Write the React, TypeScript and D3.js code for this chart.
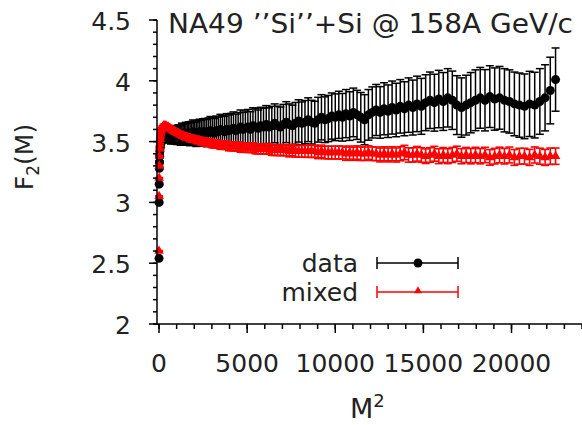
import React from "react";
import * as d3 from "d3";

// x values: M^2
const M2: number[] = [
  1, 4, 9, 16, 25, 36, 49, 64, 81, 100,
  121, 144, 169, 196, 225, 256, 289, 324, 361, 400,
  441, 484, 529, 576, 625, 676, 729, 784, 841, 900,
  961, 1024, 1089, 1156, 1225, 1296, 1369, 1444, 1521, 1600,
  1681, 1764, 1849, 1936, 2025, 2116, 2209, 2304, 2401, 2500,
  2601, 2704, 2809, 2916, 3025, 3136, 3249, 3364, 3481, 3600,
  3721, 3844, 3969, 4096, 4225, 4356, 4489, 4624, 4761, 4900,
  5041, 5184, 5329, 5476, 5625, 5776, 5929, 6084, 6241, 6400,
  6561, 6724, 6889, 7056, 7225, 7396, 7569, 7744, 7921, 8100,
  8281, 8464, 8649, 8836, 9025, 9216, 9409, 9604, 9801, 10000,
  10201, 10404, 10609, 10816, 11025, 11236, 11449, 11664, 11881, 12100,
  12321, 12544, 12769, 12996, 13225, 13456, 13689, 13924, 14161, 14400,
  14641, 14884, 15129, 15376, 15625, 15876, 16129, 16384, 16641, 16900,
  17161, 17424, 17689, 17956, 18225, 18496, 18769, 19044, 19321, 19600,
  19881, 20164, 20449, 20736, 21025, 21316, 21609, 21904, 22201, 22500,
];

const dataF2: number[] = [
  2.54, 3.0, 3.15, 3.28, 3.33, 3.38, 3.42, 3.45, 3.47, 3.49,
  3.5, 3.51, 3.52, 3.52, 3.53, 3.53, 3.53, 3.54, 3.54, 3.54,
  3.54, 3.55, 3.54, 3.55, 3.55, 3.54, 3.55, 3.56, 3.55, 3.55,
  3.56, 3.55, 3.56, 3.56, 3.55, 3.57, 3.56, 3.56, 3.57, 3.56,
  3.57, 3.56, 3.57, 3.58, 3.57, 3.56, 3.57, 3.58, 3.57, 3.58,
  3.58, 3.57, 3.58, 3.59, 3.58, 3.57, 3.59, 3.58, 3.6, 3.59,
  3.58, 3.6, 3.59, 3.6, 3.61, 3.59, 3.6, 3.62, 3.6, 3.61,
  3.62, 3.6, 3.63, 3.62, 3.61, 3.63, 3.62, 3.64, 3.62, 3.63,
  3.65, 3.63, 3.62, 3.64, 3.66, 3.64, 3.63, 3.65, 3.67, 3.65,
  3.66, 3.68, 3.66, 3.65, 3.68, 3.7, 3.68, 3.69, 3.71, 3.7,
  3.72, 3.7, 3.73, 3.71, 3.74, 3.72, 3.7, 3.68, 3.72, 3.74,
  3.76, 3.74, 3.77, 3.75, 3.78, 3.76, 3.79, 3.77, 3.8, 3.78,
  3.81, 3.79, 3.82, 3.84, 3.82, 3.85, 3.83, 3.86, 3.84, 3.8,
  3.78, 3.8, 3.82, 3.84, 3.86, 3.84, 3.87, 3.85, 3.86, 3.84,
  3.83, 3.81, 3.8, 3.79, 3.81, 3.8, 3.83, 3.86, 3.92, 4.01,
];

const dataErr: number[] = [
  0.004, 0.006, 0.008, 0.01, 0.012, 0.014, 0.016, 0.018, 0.02, 0.022,
  0.024, 0.026, 0.028, 0.03, 0.032, 0.035, 0.037, 0.04, 0.042, 0.045,
  0.047, 0.05, 0.052, 0.054, 0.057, 0.06, 0.062, 0.064, 0.066, 0.07,
  0.072, 0.074, 0.076, 0.078, 0.08, 0.082, 0.084, 0.086, 0.088, 0.09,
  0.092, 0.094, 0.096, 0.098, 0.1, 0.1, 0.102, 0.104, 0.106, 0.108,
  0.11, 0.112, 0.114, 0.116, 0.118, 0.12, 0.12, 0.122, 0.124, 0.126,
  0.128, 0.13, 0.13, 0.132, 0.134, 0.136, 0.138, 0.14, 0.14, 0.142,
  0.144, 0.146, 0.148, 0.15, 0.15, 0.152, 0.154, 0.156, 0.158, 0.16,
  0.16, 0.162, 0.164, 0.166, 0.168, 0.17, 0.17, 0.172, 0.174, 0.176,
  0.178, 0.18, 0.18, 0.182, 0.184, 0.186, 0.188, 0.19, 0.19, 0.192,
  0.194, 0.196, 0.198, 0.2, 0.2, 0.202, 0.204, 0.206, 0.208, 0.21,
  0.21, 0.212, 0.214, 0.216, 0.218, 0.22, 0.22, 0.222, 0.224, 0.226,
  0.228, 0.23, 0.23, 0.232, 0.234, 0.236, 0.238, 0.24, 0.24, 0.242,
  0.244, 0.246, 0.248, 0.25, 0.25, 0.252, 0.254, 0.256, 0.258, 0.26,
  0.26, 0.262, 0.264, 0.266, 0.268, 0.27, 0.27, 0.272, 0.274, 0.26,
];

const mixedF2: number[] = [
  2.6, 3.05, 3.2, 3.3, 3.38, 3.44, 3.48, 3.52, 3.55, 3.57,
  3.59, 3.6, 3.61, 3.62, 3.62, 3.63, 3.63, 3.63, 3.63, 3.63,
  3.62, 3.62, 3.62, 3.61, 3.61, 3.6, 3.6, 3.59, 3.59, 3.58,
  3.58, 3.57, 3.57, 3.56, 3.56, 3.55, 3.55, 3.54, 3.54, 3.54,
  3.53, 3.53, 3.52, 3.52, 3.52, 3.51, 3.51, 3.51, 3.5, 3.5,
  3.5, 3.49, 3.49, 3.49, 3.48, 3.48, 3.48, 3.48, 3.47, 3.47,
  3.47, 3.47, 3.46, 3.46, 3.46, 3.46, 3.46, 3.45, 3.45, 3.45,
  3.45, 3.45, 3.45, 3.44, 3.44, 3.44, 3.44, 3.44, 3.44, 3.43,
  3.43, 3.43, 3.43, 3.43, 3.43, 3.42, 3.43, 3.42, 3.42, 3.42,
  3.42, 3.42, 3.42, 3.42, 3.41, 3.42, 3.41, 3.41, 3.41, 3.41,
  3.41, 3.41, 3.4, 3.41, 3.4, 3.41, 3.4, 3.4, 3.41, 3.4,
  3.4, 3.39, 3.4, 3.39, 3.4, 3.39, 3.4, 3.41, 3.39, 3.39,
  3.4, 3.39, 3.38, 3.39, 3.4, 3.38, 3.39, 3.38, 3.39, 3.4,
  3.38, 3.39, 3.38, 3.39, 3.38, 3.39, 3.37, 3.38, 3.39, 3.38,
  3.39, 3.37, 3.38, 3.38, 3.37, 3.39, 3.38, 3.37, 3.38, 3.38,
];

const mixedErr: number[] = [
  0.003, 0.004, 0.004, 0.005, 0.005, 0.006, 0.006, 0.007, 0.007, 0.008,
  0.008, 0.009, 0.009, 0.01, 0.01, 0.011, 0.011, 0.012, 0.012, 0.013,
  0.013, 0.014, 0.014, 0.015, 0.015, 0.016, 0.016, 0.017, 0.017, 0.018,
  0.018, 0.019, 0.019, 0.02, 0.02, 0.021, 0.022, 0.022, 0.023, 0.023,
  0.024, 0.024, 0.025, 0.025, 0.026, 0.026, 0.027, 0.027, 0.028, 0.028,
  0.029, 0.029, 0.03, 0.03, 0.031, 0.031, 0.032, 0.032, 0.033, 0.033,
  0.034, 0.034, 0.035, 0.035, 0.036, 0.036, 0.037, 0.037, 0.038, 0.038,
  0.039, 0.039, 0.04, 0.04, 0.041, 0.041, 0.042, 0.042, 0.043, 0.043,
  0.044, 0.044, 0.045, 0.045, 0.046, 0.046, 0.047, 0.047, 0.048, 0.048,
  0.049, 0.049, 0.05, 0.05, 0.05, 0.051, 0.051, 0.052, 0.052, 0.052,
  0.053, 0.053, 0.054, 0.054, 0.054, 0.055, 0.055, 0.055, 0.056, 0.056,
  0.056, 0.057, 0.057, 0.057, 0.058, 0.058, 0.058, 0.059, 0.059, 0.059,
  0.06, 0.06, 0.06, 0.06, 0.061, 0.061, 0.061, 0.061, 0.062, 0.062,
  0.062, 0.062, 0.063, 0.063, 0.063, 0.063, 0.064, 0.064, 0.064, 0.064,
  0.065, 0.065, 0.065, 0.065, 0.066, 0.066, 0.066, 0.066, 0.067, 0.067,
];

const xTicks: number[] = [0, 5000, 10000, 15000, 20000];
const yTicks: number[] = [2, 2.5, 3, 3.5, 4, 4.5];
const legendLabels: string[] = ["data", "mixed"];
const titleText = "NA49 \u2019\u2019Si\u2019\u2019+Si @ 158A GeV/c";

const W = 582;
const H = 425;
const FONT = "DejaVu Sans";
const TXT = "#222";

export default function App() {
  const x = d3.scaleLinear().domain([-115, 24000]).range([157, 582]);
  const y = d3.scaleLinear().domain([2, 4.5]).range([324, 20]);
  const x0 = 157;
  const y0 = 324;

  const yMinor = d3.range(2, 4.5001, 0.1);
  const xMinor = d3.range(0, 24001, 1000);

  const tri = d3.symbol().type(d3.symbolTriangle).size(40)();
  const triLeg = d3.symbol().type(d3.symbolTriangle).size(28)();

  const black = "#000";
  const red = "#f00";
  const cap = 4;

  return (
    <svg width={W} height={H} style={{ position: "absolute", left: 0, top: 0, background: "#fff" }}>
      {/* data series: black */}
      <g>
        {M2.map((m, i) => {
          const cx = x(m);
          const yt = y(dataF2[i] + dataErr[i]);
          const yb = y(dataF2[i] - dataErr[i]);
          return (
            <g key={"de" + i} stroke={black} strokeWidth={1.5}>
              <line x1={cx} x2={cx} y1={yt} y2={yb} />
              <line x1={cx - cap} x2={cx + cap} y1={yt} y2={yt} />
              <line x1={cx - cap} x2={cx + cap} y1={yb} y2={yb} />
            </g>
          );
        })}
        {M2.map((m, i) => (
          <circle key={"dp" + i} cx={x(m)} cy={y(dataF2[i])} r={4.5} fill={black} />
        ))}
      </g>
      {/* mixed series: red */}
      <g>
        {M2.map((m, i) => {
          const cx = x(m);
          const yt = y(mixedF2[i] + mixedErr[i]);
          const yb = y(mixedF2[i] - mixedErr[i]);
          return (
            <g key={"me" + i} stroke={red} strokeWidth={1.6}>
              <line x1={cx} x2={cx} y1={yt} y2={yb} />
              <line x1={cx - cap} x2={cx + cap} y1={yt} y2={yt} />
              <line x1={cx - cap} x2={cx + cap} y1={yb} y2={yb} />
            </g>
          );
        })}
        {M2.map((m, i) => (
          <path key={"mp" + i} d={tri || ""} transform={`translate(${x(m)},${y(mixedF2[i])})`} fill={red} />
        ))}
      </g>

      {/* axes */}
      <g stroke="#000" strokeWidth={1.5}>
        <line x1={x0} x2={x0} y1={y(4.5)} y2={y0 + 1} />
        <line x1={x0} x2={W} y1={y0} y2={y0} />
        {yMinor.map((v, i) => (
          <line key={"ym" + i} x1={x0 - 4} x2={x0} y1={y(v)} y2={y(v)} />
        ))}
        {yTicks.map((v, i) => (
          <line key={"yM" + i} x1={x0 - 8} x2={x0} y1={y(v)} y2={y(v)} />
        ))}
        {xMinor.map((v, i) => (
          <line key={"xm" + i} x1={x(v)} x2={x(v)} y1={y0} y2={y0 + 5} />
        ))}
        {xTicks.map((v, i) => (
          <line key={"xM" + i} x1={x(v)} x2={x(v)} y1={y0} y2={y0 + 9} />
        ))}
      </g>

      {/* tick labels */}
      <g fontFamily={FONT} fontSize={25} fill={TXT}>
        {yTicks.map((v, i) => (
          <text key={"yl" + i} x={131} y={y(v) + 10} textAnchor="end">
            {String(v)}
          </text>
        ))}
        {xTicks.map((v, i) => (
          <text key={"xl" + i} x={x(v)} y={372} textAnchor="middle">
            {String(v)}
          </text>
        ))}
      </g>

      {/* axis titles */}
      <text x={350} y={418} fontFamily={FONT} fontSize={27} fill={TXT}>
        M<tspan dy={-11} fontSize={18}>2</tspan>
      </text>
      <text
        transform={`translate(33,157) rotate(-90)`}
        textAnchor="middle"
        fontFamily={FONT}
        fontSize={25}
        fill={TXT}
      >
        F<tspan dy={6} fontSize={17}>2</tspan>
        <tspan dy={-6}>(M)</tspan>
      </text>

      {/* title */}
      <text x={168} y={33} fontFamily={FONT} fontSize={26} fill={TXT} textLength={405} lengthAdjust="spacingAndGlyphs">
        {titleText}
      </text>

      {/* legend */}
      <g fontFamily={FONT} fontSize={25} fill={TXT}>
        <text x={358} y={272} textAnchor="end">{legendLabels[0]}</text>
        <text x={358} y={301} textAnchor="end">{legendLabels[1]}</text>
      </g>
      <g stroke={black} strokeWidth={1.5}>
        <line x1={377} x2={458} y1={263} y2={263} />
        <line x1={377} x2={377} y1={257} y2={269} />
        <line x1={458} x2={458} y1={257} y2={269} />
      </g>
      <circle cx={418} cy={263} r={4.5} fill={black} />
      <g stroke={red} strokeWidth={1.5}>
        <line x1={377} x2={458} y1={292} y2={292} />
        <line x1={377} x2={377} y1={286} y2={298} />
        <line x1={458} x2={458} y1={286} y2={298} />
      </g>
      <path d={triLeg || ""} transform="translate(418,291)" fill={red} />
    </svg>
  );
}
